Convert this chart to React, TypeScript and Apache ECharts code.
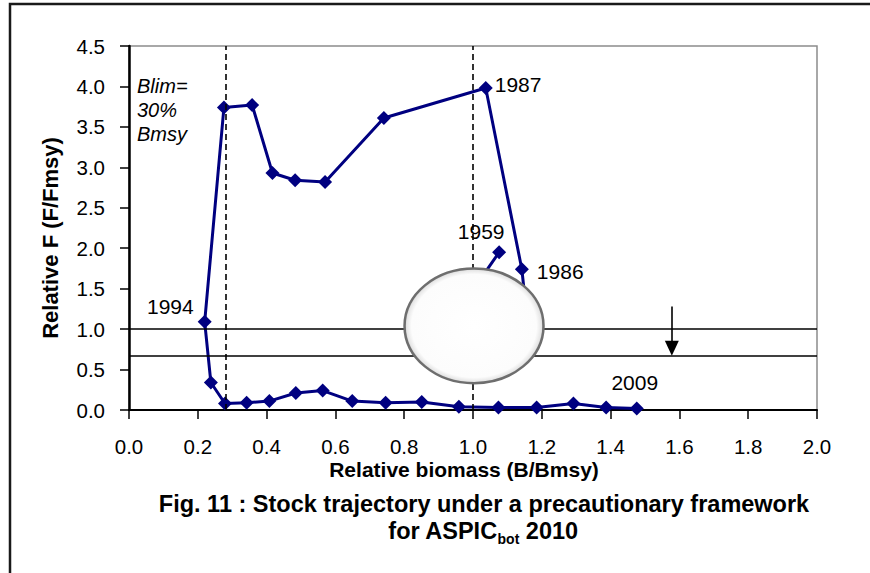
import React, { useEffect, useRef } from 'react';
import * as echarts from 'echarts';

// ---- Data ----
// Axis extents / ticks
const xMin = 0, xMax = 2, xStep = 0.2;
const yMin = 0, yMax = 4.5, yStep = 0.5;

// Stock trajectory (B/Bmsy, F/Fmsy); null year = point hidden under the ellipse (estimated)
const trajYear: (number | null)[] = [
  1959, null, null, null, 1986, 1987, 1988, 1989, 1990, 1991, 1992, 1993, 1994,
  1995, 1996, 1997, 1998, 1999, 2000, 2001, 2002, 2003, 2004, 2005, 2006, 2007, 2008, 2009,
];
const trajB = [
  1.076, 0.991, 1.05, 1.153, 1.142, 1.037, 0.741, 0.570, 0.483, 0.417, 0.358, 0.276, 0.220,
  0.238, 0.279, 0.342, 0.408, 0.485, 0.563, 0.649, 0.746, 0.851, 0.959, 1.074, 1.185, 1.292, 1.387, 1.476,
];
const trajF = [
  1.95, 1.43, 0.95, 1.30, 1.74, 3.98, 3.61, 2.82, 2.84, 2.93, 3.77, 3.74, 1.09,
  0.34, 0.08, 0.09, 0.11, 0.21, 0.24, 0.11, 0.09, 0.10, 0.04, 0.03, 0.03, 0.08, 0.03, 0.02,
];
const labelledYears = [1959, 1986, 1987, 1994, 2009];

// Reference lines
const vDashed = [0.277, 1.0];          // Blim (~30% Bmsy) and Bmsy
const hLines = [1.0, 0.67];            // Fmsy and lower reference
const arrowB = 1.578;                  // arrow position
const arrowFrom = 1.28, arrowTo = 0.67;

// Covering ellipse [centre B, centre F, radius B, radius F]
const ellipse = [1.003, 1.04, 0.202, 0.708];

// Text
const yTitle = 'Relative F (F/Fmsy)';
const xTitle = 'Relative biomass (B/Bmsy)';
const blimText = 'Blim=\n30%\nBmsy';
const captionLine1 = 'Fig. 11 : Stock trajectory under a precautionary framework';
const captionMain = 'for ASPIC';
const captionSub = 'bot';
const captionEnd = ' 2010';

// ---- Styles ----
const FONT = '"Liberation Sans", Arial, Helvetica, sans-serif';
const NAVY = '#000080';
const GRID = { left: 129, top: 46, width: 688, height: 364 };
const ARROW_HEAD = 15; // px

const labelPlacement: Record<number, any> = {
  1959: { position: 'top', distance: 3, offset: [-18, 0] },
  1986: { position: 'right', distance: 8, offset: [0, 2] },
  1987: { position: 'right', distance: 2, offset: [0, -4] },
  1994: { position: 'left', distance: 4, offset: [0, -15] },
  2009: { position: 'top', distance: 8, offset: [-2, 0] },
};

export default function App() {
  const ref = useRef<HTMLDivElement>(null);

  useEffect(() => {
    const chart = echarts.init(ref.current!, null, { renderer: 'svg' });

    const trajData = trajB.map((b, i) => {
      const yr = trajYear[i];
      const item: any = { value: [b, trajF[i]] };
      if (yr !== null && labelledYears.includes(yr)) {
        item.label = {
          show: true,
          formatter: String(yr),
          color: '#000',
          fontFamily: FONT,
          fontSize: 21,
          ...labelPlacement[yr],
        };
      }
      return item;
    });

    // the triangle symbol is centred on the end point; lift it so its tip touches arrowTo
    const halfHeadInData = (ARROW_HEAD / 2) * (yMax - yMin) / GRID.height;

    const option: any = {
      animation: false,
      backgroundColor: '#fff',
      grid: {
        ...GRID,
        show: true,
        borderColor: '#8c8c8c',
        borderWidth: 1.5,
        backgroundColor: 'transparent',
      },
      xAxis: {
        type: 'value',
        min: xMin,
        max: xMax,
        interval: xStep,
        axisLine: { show: true, onZero: false, lineStyle: { color: '#000', width: 2 } },
        axisTick: { show: true, inside: false, length: 9, lineStyle: { color: '#000', width: 1.5 } },
        axisLabel: {
          margin: 26,
          color: '#000',
          fontFamily: FONT,
          fontSize: 20.5,
          formatter: (v: number) => v.toFixed(1),
        },
        splitLine: { show: false },
      },
      yAxis: {
        type: 'value',
        min: yMin,
        max: yMax,
        interval: yStep,
        axisLine: { show: true, onZero: false, lineStyle: { color: '#000', width: 2.5 } },
        axisTick: { show: true, inside: false, length: 9, lineStyle: { color: '#000', width: 1.5 } },
        axisLabel: {
          margin: 24,
          color: '#000',
          fontFamily: FONT,
          fontSize: 20.5,
          formatter: (v: number) => v.toFixed(1),
        },
        splitLine: { show: false },
      },
      series: [
        {
          type: 'line',
          name: 'refs',
          data: [],
          z: 1,
          silent: true,
          markLine: {
            silent: true,
            symbol: ['none', 'none'],
            label: { show: false },
            data: [
              ...vDashed.map((v) => ({ xAxis: v, lineStyle: { color: '#000', width: 1.6, type: [6, 4] } })),
              ...hLines.map((v) => ({ yAxis: v, lineStyle: { color: '#000', width: 1.5, type: 'solid' } })),
            ],
          },
        },
        {
          type: 'line',
          name: 'arrow',
          data: [],
          z: 1,
          silent: true,
          markLine: {
            silent: true,
            symbol: ['none', 'triangle'],
            symbolSize: [14, ARROW_HEAD],
            label: { show: false },
            lineStyle: { color: '#000', width: 1.6, type: 'solid' },
            data: [[{ coord: [arrowB, arrowFrom] }, { coord: [arrowB, arrowTo + halfHeadInData] }]],
          },
        },
        {
          type: 'line',
          name: 'trajectory',
          data: trajData,
          z: 3,
          symbol: 'diamond',
          symbolSize: 14,
          showAllSymbol: true,
          lineStyle: { color: NAVY, width: 3 },
          itemStyle: { color: NAVY },
          label: { show: false },
        },
        {
          type: 'custom',
          name: 'ellipse',
          z: 10,
          clip: false,
          data: [ellipse],
          renderItem: (params: any, api: any) => {
            const cx = api.value(0), cy = api.value(1), rx = api.value(2), ry = api.value(3);
            const c = api.coord([cx, cy]);
            const r = api.coord([cx + rx, cy]);
            const t = api.coord([cx, cy + ry]);
            return {
              type: 'ellipse',
              shape: { cx: c[0], cy: c[1], rx: r[0] - c[0], ry: c[1] - t[1] },
              style: {
                fill: new echarts.graphic.RadialGradient(0.5, 0.5, 0.5, [
                  { offset: 0, color: '#ffffff' },
                  { offset: 0.9, color: '#fcfcfc' },
                  { offset: 0.97, color: '#e6e6e6' },
                  { offset: 1, color: '#bdbdbd' },
                ]),
                stroke: '#6e6e6e',
                lineWidth: 2.5,
              },
            };
          },
        },
      ],
      graphic: [
        {
          type: 'rect',
          z: 100,
          silent: true,
          shape: { x: 10, y: 4, width: 900, height: 620 },
          style: { fill: 'none', stroke: '#1a1a1a', lineWidth: 2.5 },
        },
        {
          type: 'text',
          x: 137,
          y: 74,
          z: 100,
          style: {
            text: blimText,
            fill: '#000',
            fontFamily: FONT,
            fontSize: 20,
            fontStyle: 'italic',
            lineHeight: 24,
            align: 'left',
            verticalAlign: 'top',
          },
        },
        {
          type: 'text',
          x: 50,
          y: 238,
          rotation: Math.PI / 2,
          z: 100,
          style: {
            text: yTitle,
            fill: '#000',
            fontFamily: FONT,
            fontSize: 22,
            fontWeight: 'bold',
            align: 'center',
            verticalAlign: 'middle',
          },
        },
        {
          type: 'text',
          x: 464,
          y: 469,
          z: 100,
          style: {
            text: xTitle,
            fill: '#000',
            fontFamily: FONT,
            fontSize: 21,
            fontWeight: 'bold',
            align: 'center',
            verticalAlign: 'middle',
          },
        },
        {
          type: 'text',
          x: 484,
          y: 504,
          z: 100,
          style: {
            text: captionLine1,
            fill: '#000',
            fontFamily: FONT,
            fontSize: 23.5,
            fontWeight: 'bold',
            align: 'center',
            verticalAlign: 'middle',
          },
        },
        {
          type: 'text',
          x: 483,
          y: 531,
          z: 100,
          style: {
            text: `{a|${captionMain}}{b|${captionSub}}{a|${captionEnd}}`,
            fill: '#000',
            align: 'center',
            verticalAlign: 'middle',
            rich: {
              a: { fontFamily: FONT, fontSize: 23.5, fontWeight: 'bold', lineHeight: 30, fill: '#000', color: '#000' },
              b: { fontFamily: FONT, fontSize: 14, fontWeight: 'bold', lineHeight: 14, verticalAlign: 'bottom', fill: '#000', color: '#000' },
            },
          },
        },
      ],
    };

    chart.setOption(option);
    return () => chart.dispose();
  }, []);

  return (
    <div
      ref={ref}
      style={{ position: 'fixed', left: 0, top: 0, width: 870, height: 573, background: '#fff' }}
    />
  );
}
